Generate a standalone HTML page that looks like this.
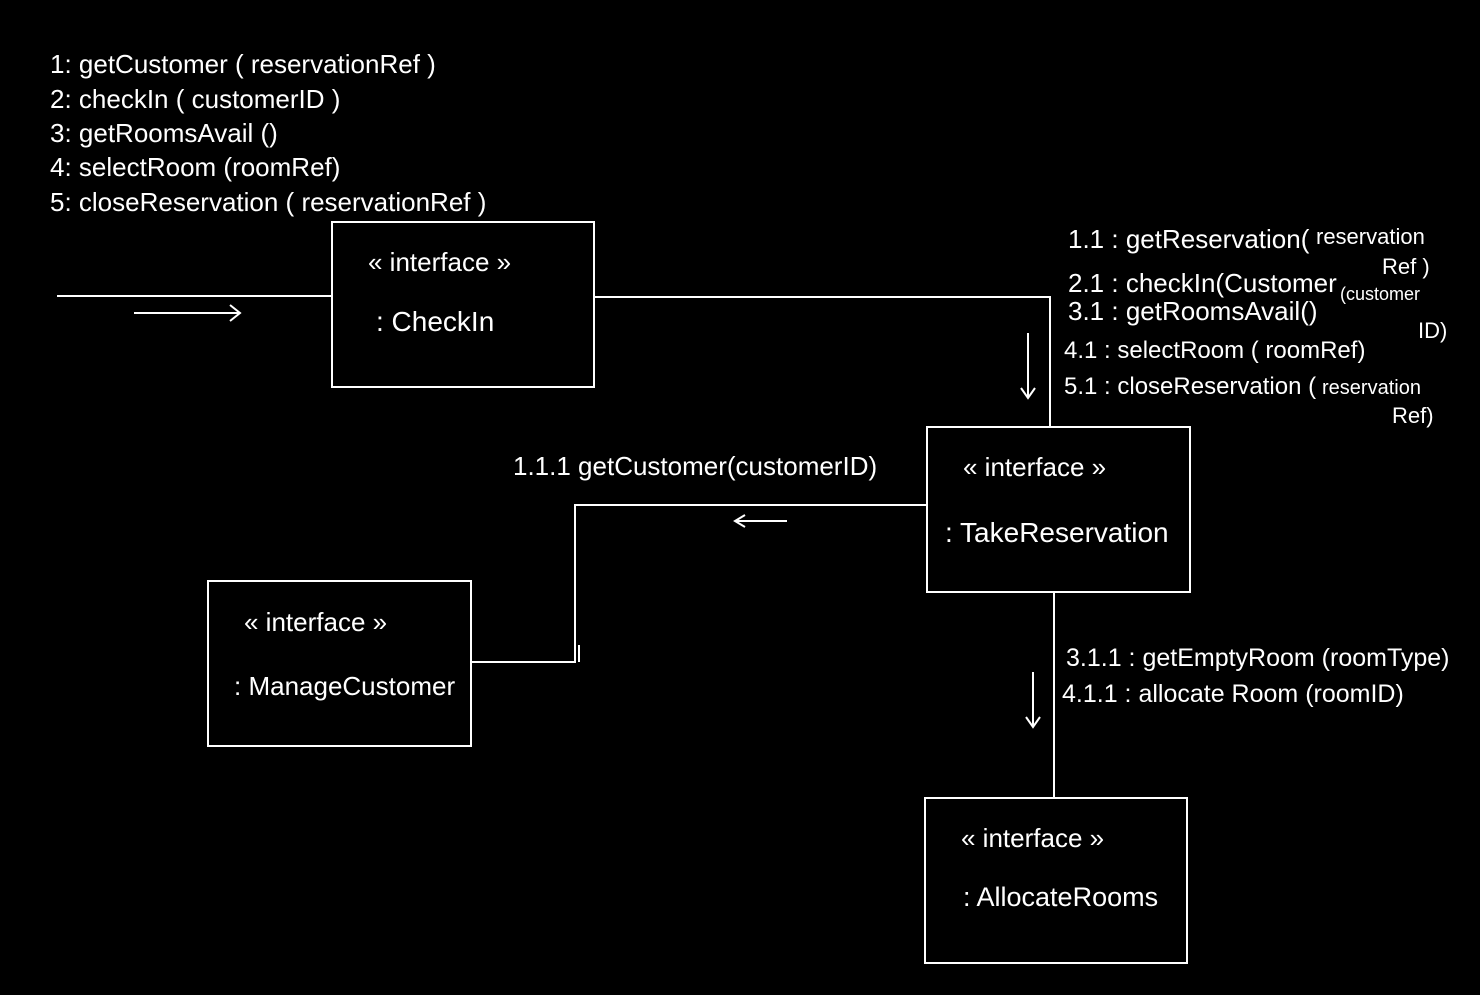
<!DOCTYPE html>
<html><head><meta charset="utf-8"><style>
html,body{margin:0;padding:0;background:#000;}
svg{display:block}
text{font-family:"Liberation Sans",sans-serif;fill:#fff;}
</style></head><body>
<svg width="1480" height="995" viewBox="0 0 1480 995" xmlns="http://www.w3.org/2000/svg">
<rect width="1480" height="995" fill="#000"/>
<g stroke="#fff" stroke-width="2" fill="none">
<rect x="332" y="222" width="262" height="165"/>
<rect x="927" y="427" width="263" height="165"/>
<rect x="208" y="581" width="263" height="165"/>
<rect x="925" y="798" width="262" height="165"/>
<path d="M57 296 H332"/>
<path d="M134 313 H240 M230 305 L240 313 L230 321"/>
<path d="M594 297 H1050 V427"/>
<path d="M1028 333 V398 M1021 388 L1028 398 L1035 388"/>
<path d="M927 505 H575 V662 H471"/>
<path d="M579 645 V662"/>
<path d="M787 521 H735 M745 515 L735 521 L745 527"/>
<path d="M1054 592 V798"/>
<path d="M1033 672 V727 M1026 717 L1033 727 L1040 717"/>
</g>
<g font-size="26">
<text x="50" y="73">1: getCustomer ( reservationRef )</text>
<text x="50" y="108">2: checkIn ( customerID )</text>
<text x="50" y="142">3: getRoomsAvail ()</text>
<text x="50" y="176">4: selectRoom (roomRef)</text>
<text x="50" y="211">5: closeReservation ( reservationRef )</text>
<text x="1068" y="248">1.1 : getReservation(</text>
<text x="1316" y="244" font-size="22">reservation</text>
<text x="1382" y="274" font-size="22">Ref )</text>
<text x="1068" y="292">2.1 : checkIn(Customer</text>
<text x="1340" y="300" font-size="18">(customer</text>
<text x="1418" y="338" font-size="22">ID)</text>
<text x="1068" y="320">3.1 : getRoomsAvail()</text>
<text x="1064" y="358" font-size="24">4.1 : selectRoom ( roomRef)</text>
<text x="1064" y="394" font-size="24">5.1 : closeReservation (</text>
<text x="1322" y="394" font-size="20">reservation</text>
<text x="1392" y="423" font-size="22">Ref)</text>
<text x="513" y="475">1.1.1 getCustomer(customerID)</text>
<text x="1066" y="666" font-size="25">3.1.1 : getEmptyRoom (roomType)</text>
<text x="1062" y="702" font-size="25">4.1.1 : allocate Room (roomID)</text>
</g>
<g font-size="28">
<text x="368" y="271" font-size="26">« interface »</text>
<text x="376" y="331">: CheckIn</text>
<text x="963" y="476" font-size="26">« interface »</text>
<text x="945" y="542">: TakeReservation</text>
<text x="244" y="631" font-size="26">« interface »</text>
<text x="234" y="695" font-size="26">: ManageCustomer</text>
<text x="961" y="847" font-size="26">« interface »</text>
<text x="963" y="906" font-size="27">: AllocateRooms</text>
</g>
</svg>
</body></html>
